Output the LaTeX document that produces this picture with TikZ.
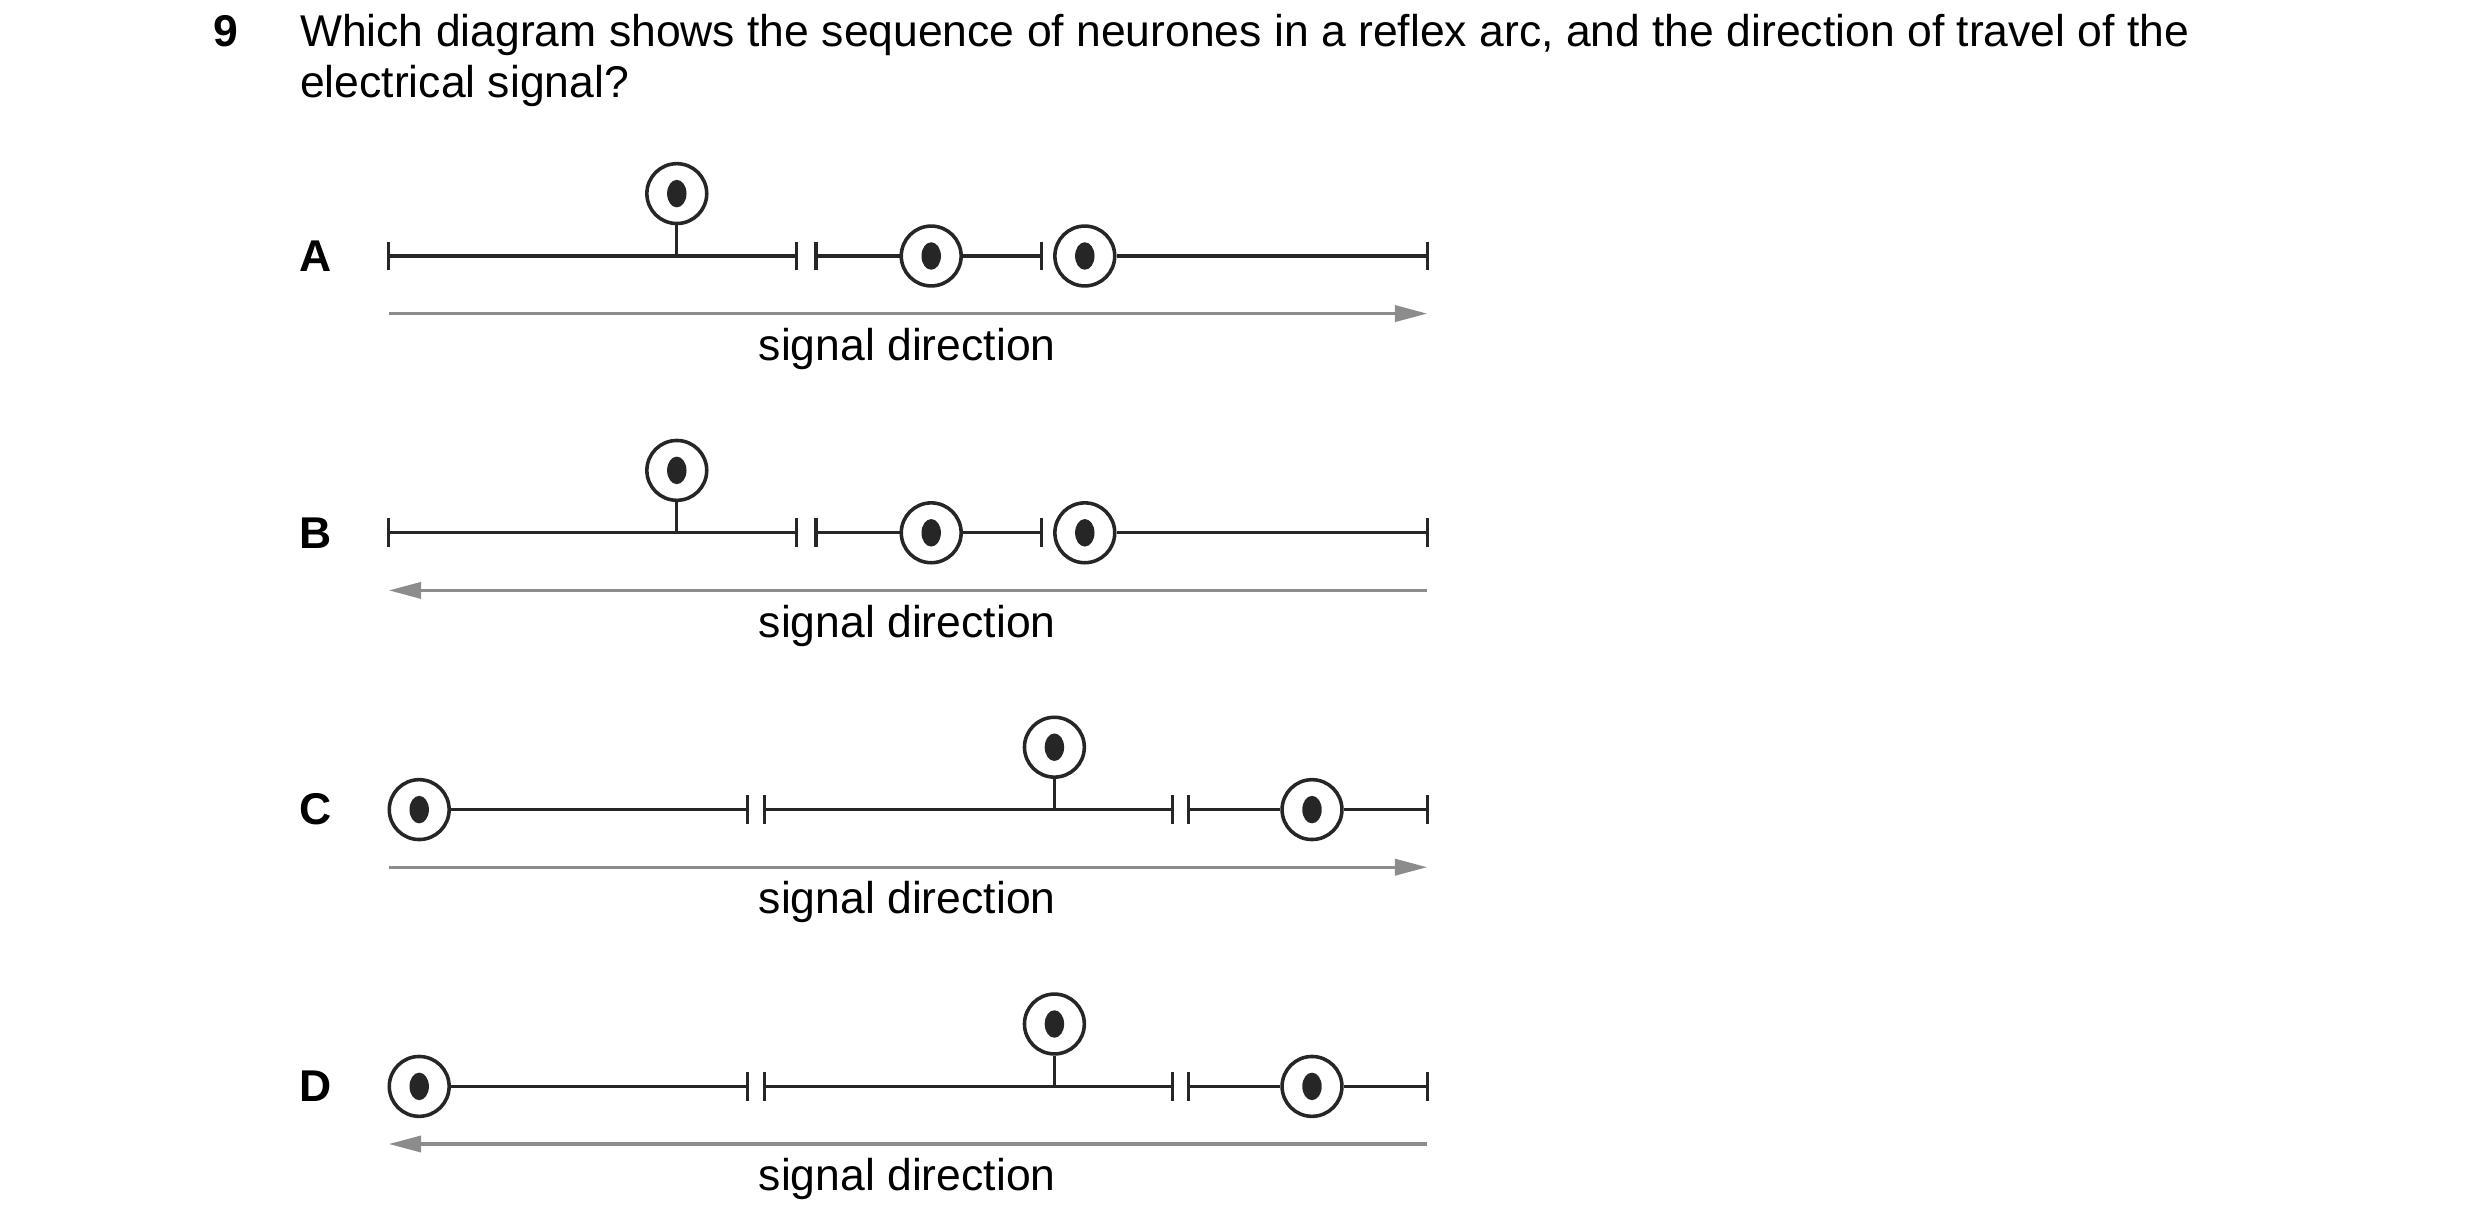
\documentclass[tikz,border=0pt]{standalone}
\usepackage{fontspec}
\setmainfont{Liberation Sans}
\usetikzlibrary{arrows.meta}
\begin{document}
\begin{tikzpicture}[x=0.989pt,y=-0.989pt,
  ax/.style={line width=2pt,black!85},
  cell/.style={circle,draw=black!85,line width=2.2pt,minimum size=37pt,inner sep=0pt},
  sig/.style={line width=2pt,black!45,-{Triangle[length=20pt,width=10pt]}},
  lab/.style={font=\fontsize{27.5}{30}\selectfont},
  opt/.style={font=\fontsize{27.5}{30}\selectfont\bfseries}]
\useasboundingbox (0,0) rectangle (1550,768);
\node[opt,anchor=base west] (n9) at (130,29) {9};
\node[lab,anchor=base west] (q1) at (184,29) {Which diagram shows the sequence of neurones in a reflex arc, and the direction of travel of the};
\node[lab,anchor=base west] (q2) at (184,61) {electrical signal?};
\newcommand{\dotc}[2]{\fill[black!85] (#1,#2) ellipse (6pt and 8.5pt);}
\newcommand{\tk}[2]{\draw[ax] (#1,#2-9) -- (#1,#2+9);}
% rows A and B
\foreach \y/\L in {160/A,333/B}{
  \node[opt] (L\L) at (197,\y) {\L};
  \node[cell] (a\L) at (423,\y-39) {};\dotc{423}{\y-39}
  \node[cell] (b\L) at (582,\y) {};\dotc{582}{\y}
  \node[cell] (c\L) at (678,\y) {};\dotc{678}{\y}
  \tk{243}{\y}\tk{498}{\y}\tk{510}{\y}\tk{651}{\y}\tk{892}{\y}
  \draw[ax] (243,\y) -- (498,\y);
  \draw[ax] (a\L.south) -- (423,\y) ;
  \draw[ax] (510,\y) -- (b\L.west);
  \draw[ax] (b\L.east) -- (651,\y);
  \draw[ax] (c\L.east) -- (892,\y);
  \coordinate (s\L) at (243,\y+36); \coordinate (e\L) at (892,\y+36);
  \node[lab] (t\L) at (567,\y+58) {signal direction};
}
\draw[sig] (sA) -- (eA);
\draw[sig] (eB) -- (sB);
% rows C and D
\foreach \y/\L in {506/C,679/D}{
  \node[opt] (L\L) at (197,\y) {\L};
  \node[cell] (a\L) at (262,\y) {};\dotc{262}{\y}
  \node[cell] (b\L) at (659,\y-39) {};\dotc{659}{\y-39}
  \node[cell] (c\L) at (820,\y) {};\dotc{820}{\y}
  \tk{467}{\y}\tk{478}{\y}\tk{733}{\y}\tk{743}{\y}\tk{892}{\y}
  \draw[ax] (a\L.east) -- (467,\y);
  \draw[ax] (478,\y) -- (733,\y);
  \draw[ax] (b\L.south) -- (659,\y);
  \draw[ax] (743,\y) -- (c\L.west);
  \draw[ax] (c\L.east) -- (892,\y);
  \coordinate (s\L) at (243,\y+36); \coordinate (e\L) at (892,\y+36);
  \node[lab] (t\L) at (567,\y+58) {signal direction};
}
\draw[sig] (sC) -- (eC);
\draw[sig] (eD) -- (sD);
\end{tikzpicture}
\end{document}
